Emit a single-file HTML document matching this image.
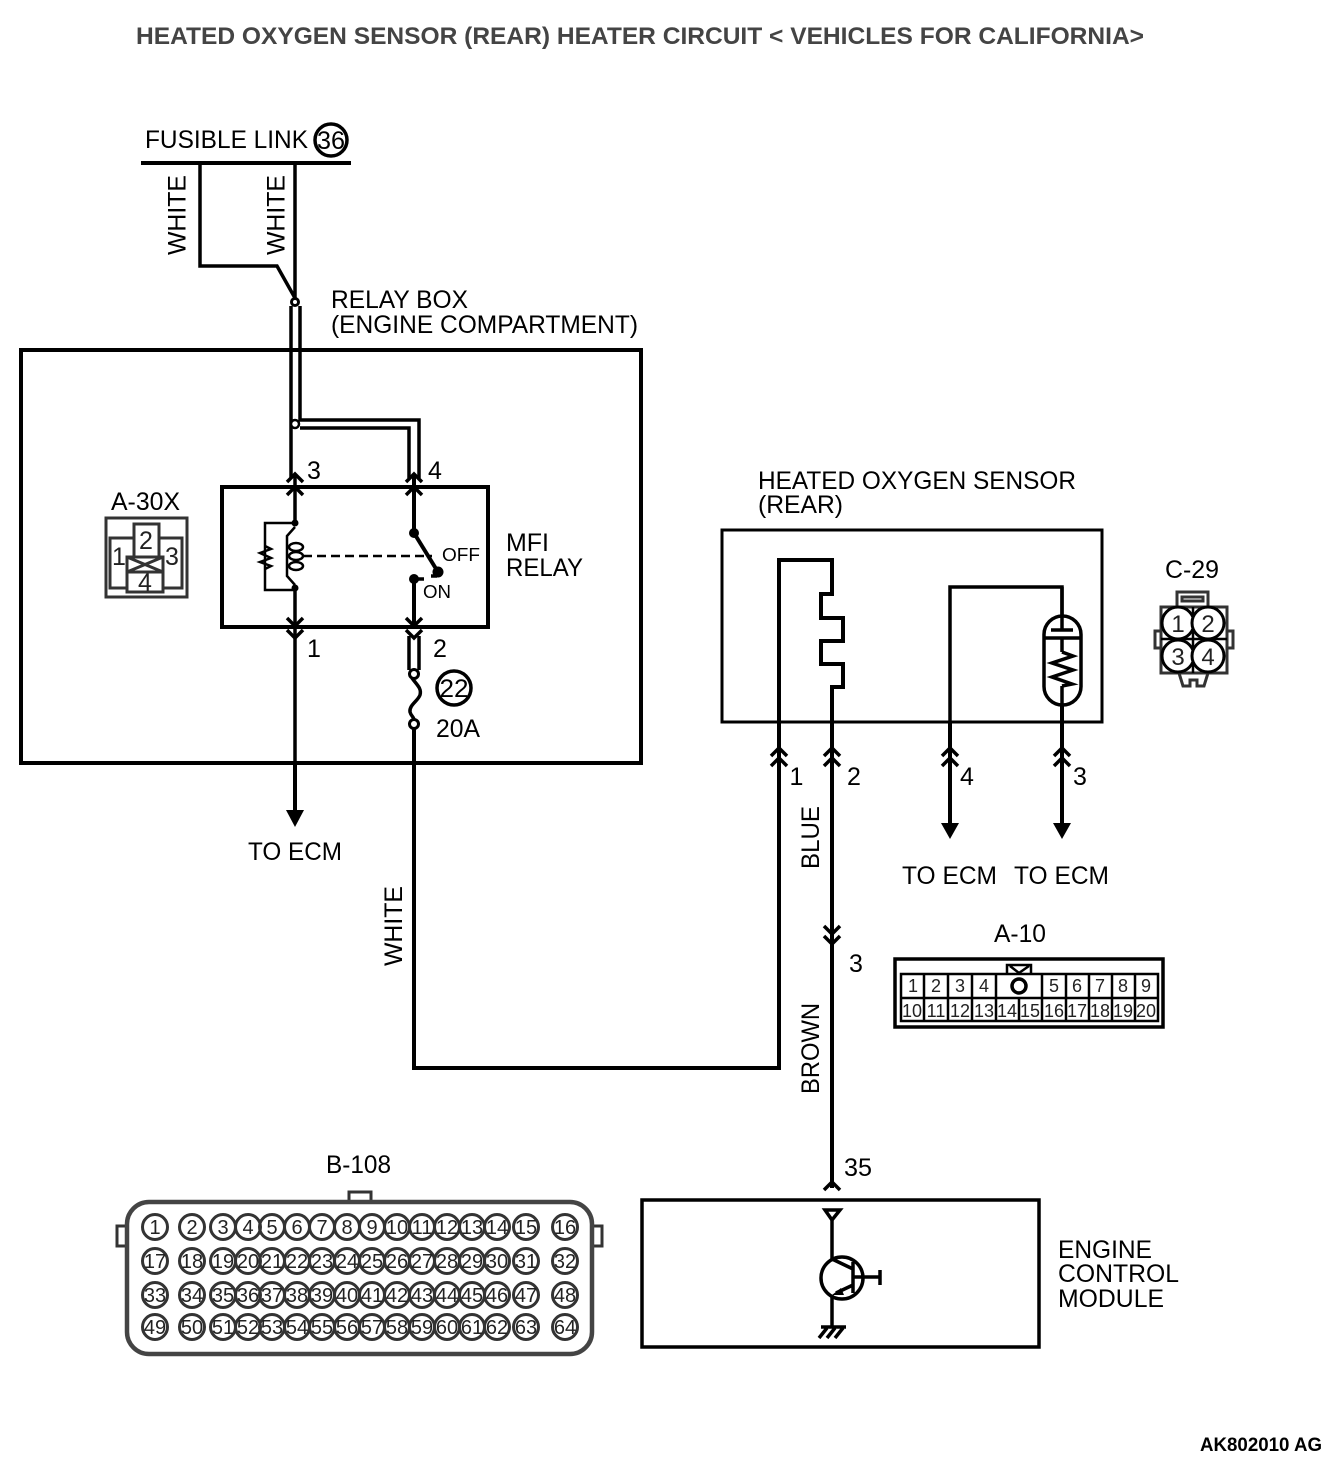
<!DOCTYPE html>
<html>
<head>
<meta charset="utf-8">
<style>
html,body{margin:0;padding:0;background:#fff;}
svg{display:block;}
text{font-family:"Liberation Sans",sans-serif;fill:#000;}
.l{font-size:25px;}
.w{fill:none;stroke:#000;stroke-width:4;}
.t{fill:none;stroke:#000;stroke-width:3.5;}
.n{fill:none;stroke:#000;stroke-width:2.5;}
.c circle{fill:none;stroke:#333;stroke-width:3;}
.c text{font-size:20px;text-anchor:middle;fill:#222;}
.g{fill:none;stroke:#333;stroke-width:3;}
</style>
</head>
<body>
<svg width="1344" height="1462" viewBox="0 0 1344 1462" xmlns="http://www.w3.org/2000/svg">
<rect width="1344" height="1462" fill="#fff"/>

<!-- Title -->
<text x="136" y="44" font-size="24" font-weight="bold" style="fill:#444" textLength="1008" lengthAdjust="spacingAndGlyphs">HEATED OXYGEN SENSOR (REAR) HEATER CIRCUIT &lt; VEHICLES FOR CALIFORNIA&gt;</text>

<!-- Fusible link -->
<text class="l" x="145" y="148" textLength="163" lengthAdjust="spacingAndGlyphs">FUSIBLE LINK</text>
<circle cx="331" cy="140" r="16" class="t"/>
<text x="331" y="149" font-size="25" text-anchor="middle" textLength="28" lengthAdjust="spacingAndGlyphs">36</text>
<path d="M141 163H351" class="w"/>
<path d="M200 163V266H277L295 298M295 163V298" class="t"/>
<text class="l" transform="translate(185.5,255) rotate(-90)" textLength="80" lengthAdjust="spacingAndGlyphs">WHITE</text>
<text class="l" transform="translate(284.5,255) rotate(-90)" textLength="80" lengthAdjust="spacingAndGlyphs">WHITE</text>
<circle cx="295" cy="302" r="3.5" fill="#fff" stroke="#000" stroke-width="3"/>

<!-- Relay box -->
<text class="l" x="331" y="308" textLength="137" lengthAdjust="spacingAndGlyphs">RELAY BOX</text>
<text class="l" x="331" y="333" textLength="307" lengthAdjust="spacingAndGlyphs">(ENGINE COMPARTMENT)</text>
<rect x="21" y="350" width="620" height="413" class="w"/>

<!-- Double wires -->
<path d="M291 306V478M300 306V420H419V478M300 428H409V478" class="t"/>
<circle cx="295" cy="424" r="4" fill="#fff" stroke="#000" stroke-width="2.5"/>

<!-- MFI relay -->
<rect x="222" y="487" width="266" height="140" class="w"/>
<text class="l" x="307" y="479">3</text>
<text class="l" x="428" y="479">4</text>
<text class="l" x="506" y="551" textLength="43" lengthAdjust="spacingAndGlyphs">MFI</text>
<text class="l" x="506" y="576" textLength="77" lengthAdjust="spacingAndGlyphs">RELAY</text>
<text x="442" y="561" font-size="18" textLength="38" lengthAdjust="spacingAndGlyphs">OFF</text>
<text x="423" y="598" font-size="18" textLength="28" lengthAdjust="spacingAndGlyphs">ON</text>

<path d="M295 474V523M295 588V820" class="t"/>
<path d="M287 482L295 474L303 482M287 495L295 487L303 495" class="t"/>
<path d="M287 618L295 626L303 618M287 630L295 638L303 630" class="t"/>
<circle cx="295" cy="523" r="3.5"/>
<circle cx="295" cy="588" r="3.5"/>
<path d="M295 523H265V590H295" class="n"/>
<path d="M265 546L271 549L260 553L271 558L260 562L271 566L265 569" class="n"/>
<path d="M295 527L287 536V576L295 585" class="n"/>
<ellipse cx="296" cy="547" rx="7" ry="4" class="n"/>
<ellipse cx="296" cy="556" rx="7" ry="4" class="n"/>
<ellipse cx="296" cy="566" rx="7" ry="4" class="n"/>
<path d="M303 556H432" fill="none" stroke="#000" stroke-width="2.5" stroke-dasharray="9 5"/>

<path d="M414 474V533" class="w"/>
<path d="M406 482L414 474L422 482M406 495L414 487L422 495" class="t"/>
<circle cx="414" cy="533" r="5"/>
<path d="M414 533L438 572" class="w"/>
<circle cx="438" cy="572" r="5.5"/>
<circle cx="414" cy="579" r="5"/>
<path d="M414 579H424M431 576H437" class="t"/>
<path d="M414 579V626" class="w"/>
<path d="M406 618L414 626L422 618M406 630L414 638L422 630" class="t"/>
<path d="M409 636V670M419 636V670" class="t"/>
<circle cx="414" cy="674" r="4.5" fill="#fff" stroke="#000" stroke-width="3"/>
<path d="M412 678C416 684 422 688 420 695C418 701 409 705 410 712C411 716 414 717 414 720" class="t"/>
<circle cx="414" cy="724" r="4.5" fill="#fff" stroke="#000" stroke-width="3"/>
<text class="l" x="307" y="657">1</text>
<text class="l" x="433" y="657">2</text>
<circle cx="454" cy="688" r="17" class="t"/>
<text x="454" y="697" font-size="25" text-anchor="middle" textLength="29" lengthAdjust="spacingAndGlyphs">22</text>
<text class="l" x="436" y="737" textLength="44" lengthAdjust="spacingAndGlyphs">20A</text>

<!-- TO ECM left -->
<path d="M295 763V812" class="w"/>
<path d="M286 810H304L295 827Z"/>
<text class="l" x="248" y="860" textLength="94" lengthAdjust="spacingAndGlyphs">TO ECM</text>

<!-- A-30X -->
<text class="l" x="111" y="510" textLength="69" lengthAdjust="spacingAndGlyphs">A-30X</text>
<rect x="106" y="518" width="81" height="79" class="g"/>
<rect x="110" y="538" width="72" height="50" class="g"/>
<rect x="134" y="524" width="25" height="33" fill="#fff" stroke="#333" stroke-width="3"/>
<rect x="127" y="557" width="36" height="35" fill="#fff" stroke="#333" stroke-width="3"/>
<path d="M127 572H163M127 557L163 572M163 557L127 572" class="g"/>
<text x="119" y="565" font-size="25" text-anchor="middle" style="fill:#222">1</text>
<text x="146" y="549" font-size="25" text-anchor="middle" style="fill:#222">2</text>
<text x="172" y="565" font-size="25" text-anchor="middle" style="fill:#222">3</text>
<text x="145" y="591" font-size="25" text-anchor="middle" style="fill:#222">4</text>

<!-- White wire to sensor -->
<path d="M414 729V1068H779V560H832V594H821V618H843V641H821V664H843V687H832V1188" class="w"/>
<text class="l" transform="translate(402,966) rotate(-90)" textLength="80" lengthAdjust="spacingAndGlyphs">WHITE</text>
<text class="l" transform="translate(819,869) rotate(-90)" textLength="63" lengthAdjust="spacingAndGlyphs">BLUE</text>
<text class="l" transform="translate(819,1094) rotate(-90)" textLength="91" lengthAdjust="spacingAndGlyphs">BROWN</text>

<!-- Sensor -->
<text class="l" x="758" y="489" textLength="318" lengthAdjust="spacingAndGlyphs">HEATED OXYGEN SENSOR</text>
<text class="l" x="758" y="513" textLength="85" lengthAdjust="spacingAndGlyphs">(REAR)</text>
<rect x="722" y="530" width="380" height="192" fill="none" stroke="#000" stroke-width="3"/>
<path d="M950 826V587H1062V615" class="t"/>
<path d="M950 722V826M1062 706V826" class="w"/>
<path d="M1062 587V630M1062 638V652M1062 686V706" class="t"/>
<rect x="1044" y="616" width="37" height="89" rx="18.5" class="t"/>
<path d="M1044 638H1080" class="t"/>
<path d="M1051 630H1073" class="t"/>
<path d="M1062 652L1073 656L1052 663L1073 670L1052 677L1072 684L1062 686" class="t"/>
<path d="M941 823H959L950 839Z"/>
<path d="M1053 823H1071L1062 839Z"/>
<path d="M771 756L779 748L787 756M771 766L779 758L787 766" class="t"/>
<path d="M824 756L832 748L840 756M824 766L832 758L840 766" class="t"/>
<path d="M942 756L950 748L958 756M942 766L950 758L958 766" class="t"/>
<path d="M1054 756L1062 748L1070 756M1054 766L1062 758L1070 766" class="t"/>
<text class="l" x="789.5" y="785">1</text>
<text class="l" x="847" y="785">2</text>
<text class="l" x="960" y="785">4</text>
<text class="l" x="1073" y="785">3</text>
<text class="l" x="902" y="884" textLength="95" lengthAdjust="spacingAndGlyphs">TO ECM</text>
<text class="l" x="1014" y="884" textLength="95" lengthAdjust="spacingAndGlyphs">TO ECM</text>

<!-- C-29 -->
<text class="l" x="1165" y="578" textLength="54" lengthAdjust="spacingAndGlyphs">C-29</text>
<rect x="1177" y="592" width="31" height="15" class="g"/>
<rect x="1182" y="597" width="21" height="4" class="g"/>
<rect x="1161" y="607" width="66" height="66" class="g"/>
<rect x="1155" y="631" width="6" height="17" class="g"/>
<rect x="1227" y="631" width="6" height="17" class="g"/>
<path d="M1179 673L1183 686H1190V680H1197V686H1204L1208 673" class="g"/>
<path d="M1161 639H1227M1193 607V673" class="n"/>
<circle cx="1178" cy="623" r="16" fill="#fff" stroke="#000" stroke-width="3"/>
<circle cx="1208" cy="623" r="16" fill="#fff" stroke="#000" stroke-width="3"/>
<circle cx="1178" cy="656" r="16" fill="#fff" stroke="#000" stroke-width="3"/>
<circle cx="1208" cy="656" r="16" fill="#fff" stroke="#000" stroke-width="3"/>
<text x="1178" y="632" font-size="24" text-anchor="middle" style="fill:#222">1</text>
<text x="1208" y="632" font-size="24" text-anchor="middle" style="fill:#222">2</text>
<text x="1178" y="665" font-size="24" text-anchor="middle" style="fill:#222">3</text>
<text x="1208" y="665" font-size="24" text-anchor="middle" style="fill:#222">4</text>

<!-- Chevron 3 -->
<path d="M824 926L832 934L840 926M824 936L832 944L840 936" class="t"/>
<text class="l" x="849" y="972">3</text>

<!-- A-10 -->
<text class="l" x="994" y="942" textLength="52" lengthAdjust="spacingAndGlyphs">A-10</text>
<rect x="895" y="959" width="268" height="68" class="t"/>
<rect x="901" y="974" width="257" height="47" class="n"/>
<path d="M901 998H1158" class="n"/>
<path d="M924 974V1021M948 974V1021M972 974V1021M996 974V1021M1042 974V1021M1066 974V1021M1089 974V1021M1112 974V1021M1135 974V1021M1019 998V1021" class="n"/>
<path d="M1007 974V965H1031V974M1010 966L1019 973L1029 966" class="n"/>
<circle cx="1019" cy="986" r="7" class="t"/>
<g style="font-size:18px;text-anchor:middle;">
<text x="913" y="992" style="fill:#222">1</text><text x="936" y="992" style="fill:#222">2</text><text x="960" y="992" style="fill:#222">3</text><text x="984" y="992" style="fill:#222">4</text>
<text x="1054" y="992" style="fill:#222">5</text><text x="1077" y="992" style="fill:#222">6</text><text x="1100" y="992" style="fill:#222">7</text><text x="1123" y="992" style="fill:#222">8</text><text x="1146" y="992" style="fill:#222">9</text>
<text x="912" y="1017" style="fill:#222">10</text><text x="936" y="1017" style="fill:#222">11</text><text x="960" y="1017" style="fill:#222">12</text><text x="984" y="1017" style="fill:#222">13</text><text x="1007" y="1017" style="fill:#222">14</text><text x="1030" y="1017" style="fill:#222">15</text><text x="1054" y="1017" style="fill:#222">16</text><text x="1077" y="1017" style="fill:#222">17</text><text x="1100" y="1017" style="fill:#222">18</text><text x="1123" y="1017" style="fill:#222">19</text><text x="1146" y="1017" style="fill:#222">20</text>
</g>

<!-- ECM -->
<text class="l" x="844" y="1176" textLength="28" lengthAdjust="spacingAndGlyphs">35</text>
<path d="M824 1190L832 1182L840 1190" class="t"/>
<rect x="642" y="1200" width="397" height="147" class="t"/>
<path d="M825 1210H840L832 1220Z" class="t"/>
<path d="M832 1220V1259L853 1269M853 1262V1293M853 1277H880M880 1270V1285M853 1285L836 1293" class="t"/>
<path d="M832 1295V1327" class="t"/>
<path d="M841 1288L832 1295L844 1295Z"/>
<circle cx="842" cy="1278" r="21" class="t"/>
<path d="M821 1327H846M827 1328L819 1338M835 1328L827 1338M843 1328L835 1338" class="t"/>
<text class="l" x="1058" y="1258" textLength="94" lengthAdjust="spacingAndGlyphs">ENGINE</text>
<text class="l" x="1058" y="1282" textLength="121" lengthAdjust="spacingAndGlyphs">CONTROL</text>
<text class="l" x="1058" y="1307" textLength="106" lengthAdjust="spacingAndGlyphs">MODULE</text>

<!-- B-108 -->
<text class="l" x="326" y="1173" textLength="65" lengthAdjust="spacingAndGlyphs">B-108</text>
<rect x="349" y="1192" width="22" height="10" class="g"/>
<rect x="117" y="1226" width="10" height="20" class="g"/>
<rect x="592" y="1226" width="10" height="20" class="g"/>
<rect x="127" y="1202" width="465" height="152" rx="22" fill="#fff" stroke="#444" stroke-width="4.5"/>
<g class="c">
<circle cx="155" cy="1227" r="12.5"/><text x="155" y="1234">1</text>
<circle cx="192" cy="1227" r="12.5"/><text x="192" y="1234">2</text>
<circle cx="223" cy="1227" r="12.5"/><text x="223" y="1234">3</text>
<circle cx="248" cy="1227" r="12.5"/><text x="248" y="1234">4</text>
<circle cx="272" cy="1227" r="12.5"/><text x="272" y="1234">5</text>
<circle cx="297" cy="1227" r="12.5"/><text x="297" y="1234">6</text>
<circle cx="322" cy="1227" r="12.5"/><text x="322" y="1234">7</text>
<circle cx="347" cy="1227" r="12.5"/><text x="347" y="1234">8</text>
<circle cx="372" cy="1227" r="12.5"/><text x="372" y="1234">9</text>
<circle cx="397" cy="1227" r="12.5"/><text x="397" y="1234">10</text>
<circle cx="422" cy="1227" r="12.5"/><text x="422" y="1234">11</text>
<circle cx="447" cy="1227" r="12.5"/><text x="447" y="1234">12</text>
<circle cx="472" cy="1227" r="12.5"/><text x="472" y="1234">13</text>
<circle cx="497" cy="1227" r="12.5"/><text x="497" y="1234">14</text>
<circle cx="526" cy="1227" r="12.5"/><text x="526" y="1234">15</text>
<circle cx="565" cy="1227" r="12.5"/><text x="565" y="1234">16</text>

<circle cx="155" cy="1261" r="12.5"/><text x="155" y="1268">17</text>
<circle cx="192" cy="1261" r="12.5"/><text x="192" y="1268">18</text>
<circle cx="223" cy="1261" r="12.5"/><text x="223" y="1268">19</text>
<circle cx="248" cy="1261" r="12.5"/><text x="248" y="1268">20</text>
<circle cx="272" cy="1261" r="12.5"/><text x="272" y="1268">21</text>
<circle cx="297" cy="1261" r="12.5"/><text x="297" y="1268">22</text>
<circle cx="322" cy="1261" r="12.5"/><text x="322" y="1268">23</text>
<circle cx="347" cy="1261" r="12.5"/><text x="347" y="1268">24</text>
<circle cx="372" cy="1261" r="12.5"/><text x="372" y="1268">25</text>
<circle cx="397" cy="1261" r="12.5"/><text x="397" y="1268">26</text>
<circle cx="422" cy="1261" r="12.5"/><text x="422" y="1268">27</text>
<circle cx="447" cy="1261" r="12.5"/><text x="447" y="1268">28</text>
<circle cx="472" cy="1261" r="12.5"/><text x="472" y="1268">29</text>
<circle cx="497" cy="1261" r="12.5"/><text x="497" y="1268">30</text>
<circle cx="526" cy="1261" r="12.5"/><text x="526" y="1268">31</text>
<circle cx="565" cy="1261" r="12.5"/><text x="565" y="1268">32</text>

<circle cx="155" cy="1295" r="12.5"/><text x="155" y="1302">33</text>
<circle cx="192" cy="1295" r="12.5"/><text x="192" y="1302">34</text>
<circle cx="223" cy="1295" r="12.5"/><text x="223" y="1302">35</text>
<circle cx="248" cy="1295" r="12.5"/><text x="248" y="1302">36</text>
<circle cx="272" cy="1295" r="12.5"/><text x="272" y="1302">37</text>
<circle cx="297" cy="1295" r="12.5"/><text x="297" y="1302">38</text>
<circle cx="322" cy="1295" r="12.5"/><text x="322" y="1302">39</text>
<circle cx="347" cy="1295" r="12.5"/><text x="347" y="1302">40</text>
<circle cx="372" cy="1295" r="12.5"/><text x="372" y="1302">41</text>
<circle cx="397" cy="1295" r="12.5"/><text x="397" y="1302">42</text>
<circle cx="422" cy="1295" r="12.5"/><text x="422" y="1302">43</text>
<circle cx="447" cy="1295" r="12.5"/><text x="447" y="1302">44</text>
<circle cx="472" cy="1295" r="12.5"/><text x="472" y="1302">45</text>
<circle cx="497" cy="1295" r="12.5"/><text x="497" y="1302">46</text>
<circle cx="526" cy="1295" r="12.5"/><text x="526" y="1302">47</text>
<circle cx="565" cy="1295" r="12.5"/><text x="565" y="1302">48</text>

<circle cx="155" cy="1327" r="12.5"/><text x="155" y="1334">49</text>
<circle cx="192" cy="1327" r="12.5"/><text x="192" y="1334">50</text>
<circle cx="223" cy="1327" r="12.5"/><text x="223" y="1334">51</text>
<circle cx="248" cy="1327" r="12.5"/><text x="248" y="1334">52</text>
<circle cx="272" cy="1327" r="12.5"/><text x="272" y="1334">53</text>
<circle cx="297" cy="1327" r="12.5"/><text x="297" y="1334">54</text>
<circle cx="322" cy="1327" r="12.5"/><text x="322" y="1334">55</text>
<circle cx="347" cy="1327" r="12.5"/><text x="347" y="1334">56</text>
<circle cx="372" cy="1327" r="12.5"/><text x="372" y="1334">57</text>
<circle cx="397" cy="1327" r="12.5"/><text x="397" y="1334">58</text>
<circle cx="422" cy="1327" r="12.5"/><text x="422" y="1334">59</text>
<circle cx="447" cy="1327" r="12.5"/><text x="447" y="1334">60</text>
<circle cx="472" cy="1327" r="12.5"/><text x="472" y="1334">61</text>
<circle cx="497" cy="1327" r="12.5"/><text x="497" y="1334">62</text>
<circle cx="526" cy="1327" r="12.5"/><text x="526" y="1334">63</text>
<circle cx="565" cy="1327" r="12.5"/><text x="565" y="1334">64</text>
</g>

<!-- Footer -->
<text x="1200" y="1451" font-size="19" font-weight="bold" textLength="122" lengthAdjust="spacingAndGlyphs">AK802010 AG</text>
</svg>
</body>
</html>
